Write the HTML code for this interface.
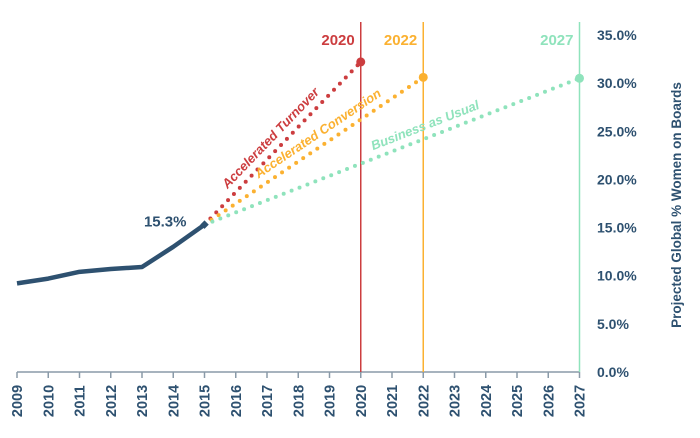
<!DOCTYPE html>
<html><head><meta charset="utf-8"><style>
html,body{margin:0;padding:0;background:#fff;}
svg{display:block;font-family:"Liberation Sans",sans-serif;}
</style></head><body>
<svg id="chart" width="700" height="438" viewBox="0 0 700 438"></svg>
<script>
const years = [2009,2010,2011,2012,2013,2014,2015,2016,2017,2018,2019,2020,2021,2022,2023,2024,2025,2026,2027];
const histYears = [2009,2010,2011,2012,2013,2014,2015];
const histValues = [9.2,9.7,10.4,10.7,10.9,13.0,15.3];
const yTicks = [0,5,10,15,20,25,30,35];
const projNames = ["Accelerated Turnover","Accelerated Conversion","Business as Usual"];
const projEndYears = [2020,2022,2027];
const projEndValues = [32.2,30.6,30.5];
const projColors = ["#cc3d3f","#fbb131","#8fe3bc"];
const labelFrac = [0.48,0.55,0.6];

const NS="http://www.w3.org/2000/svg";
const svg=document.getElementById('chart');
const x=y=>17+(y-2009)*31.25;
const yv=v=>372-v*9.63;
function el(t,a,p){const e=document.createElementNS(NS,t);for(const k in a)e.setAttribute(k,a[k]);(p||svg).appendChild(e);return e;}
const axisCol="#2e5170";

const xa=el('line',{x1:x(2009),y1:372,x2:x(2027),y2:372,stroke:'#8a9aa8','stroke-width':1.5});


years.forEach(yr=>{
  const t=el('line',{x1:x(yr),y1:372,x2:x(yr),y2:378,stroke:'#8a9aa8','stroke-width':1.5});
  
  
  const tx=el('text',{x:0,y:0,transform:`translate(${x(yr)+5},401) rotate(-90)`,'text-anchor':'middle',fill:axisCol,'font-size':14.5,'font-weight':'bold'});
  tx.textContent=yr;
  
  
});
yTicks.forEach(v=>{
  const tx=el('text',{x:597,y:yv(v)+5,fill:axisCol,'font-size':14,'font-weight':'bold'});
  tx.textContent=v.toFixed(1)+'%';
  
  
});
const yt=el('text',{x:0,y:0,transform:'translate(681,205) rotate(-90)','text-anchor':'middle',fill:axisCol,'font-size':13.5,'font-weight':'bold'});
yt.textContent='Projected Global % Women on Boards';



projNames.forEach((n,i)=>{
  const c=projColors[i], ex=x(projEndYears[i]), ey=yv(projEndValues[i]);
  const vl=el('line',{x1:ex,y1:22,x2:ex,y2:372,stroke:c,'stroke-width':1.5});
  
  
  const lab=el('text',{x:ex-6,y:45,'text-anchor':'end',fill:c,'font-size':15,'font-weight':'bold'});
  lab.textContent=projEndYears[i];
  
  
  const sx=x(2015), sy=yv(15.3);
  const pl=el('line',{x1:sx,y1:sy,x2:ex,y2:ey,stroke:c,'stroke-width':4,'stroke-linecap':'round','stroke-dasharray':'0 8.5'});
  
  
  const dot=el('circle',{cx:ex,cy:ey,r:4.5,fill:c});
  
  
  const ang=Math.atan2(ey-sy,ex-sx)*180/Math.PI;
  const f=labelFrac[i];
  const mx=sx+(ex-sx)*f, my=sy+(ey-sy)*f;
  const nt=el('text',{x:0,y:0,transform:`translate(${mx},${my}) rotate(${ang}) translate(0,-8)`,'text-anchor':'middle',fill:c,'font-size':13,'font-style':'italic','font-weight':'bold'});
  nt.textContent=n;
  
  
});

const hl=el('polyline',{points:histYears.map((yr,i)=>x(yr)+','+yv(histValues[i])).join(' '),fill:'none',stroke:'#2e5170','stroke-width':4.5,'stroke-linejoin':'round'});


const lx=x(2015), ly=yv(15.3);
const hd=el('rect',{x:lx-3,y:ly-3,width:6,height:6,fill:'#2e5170',transform:`rotate(45 ${lx} ${ly})`});


const hv=el('text',{x:lx-18,y:ly+2,'text-anchor':'end',fill:'#2e5170','font-size':15,'font-weight':'bold'});
hv.textContent=histValues[histValues.length-1].toFixed(1)+'%';


</script>
</body></html>
